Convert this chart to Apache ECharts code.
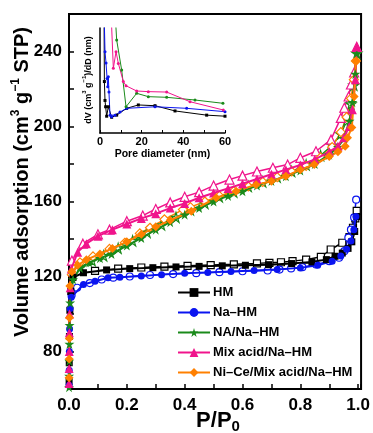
<!DOCTYPE html>
<html>
<head>
<meta charset="utf-8">
<script src="https://cdn.jsdelivr.net/npm/echarts@6/dist/echarts.min.js"></script>
<style>
  html, body { margin: 0; padding: 0; background: #fff; }
  #chart { width: 373px; height: 433px; }
</style>
</head>
<body>
<div id="chart"></div>
<script>
// ---- N2 adsorption–desorption isotherms (P/P0 vs. volume adsorbed, cm3/g STP) ----
const sampleNames = ['HM', 'Na\u2013HM', 'NA/Na\u2013HM', 'Mix acid/Na\u2013HM', 'Ni\u2013Ce/Mix acid/Na\u2013HM'];

// HM
const hmAdsP = [0.0004, 0.0008, 0.0015, 0.003, 0.006, 0.014, 0.05, 0.13, 0.21, 0.29, 0.37, 0.45, 0.53, 0.61, 0.69, 0.77, 0.84, 0.89, 0.92, 0.945, 0.965, 0.978, 0.988, 0.995];
const hmAdsV = [64, 74, 88, 102, 112, 119.5, 122, 123.5, 124.2, 124.7, 125.1, 125.4, 125.7, 126, 126.3, 126.9, 127.8, 129, 130.8, 132.5, 135, 138.5, 144, 152];
const hmDesP = [0.995, 0.99, 0.982, 0.97, 0.945, 0.905, 0.871, 0.82, 0.773, 0.733, 0.693, 0.65, 0.57, 0.49, 0.41, 0.33, 0.25, 0.17, 0.09];
const hmDesV = [155, 151, 146, 141, 138, 134.4, 130.5, 129, 128.2, 127.6, 127.3, 127, 126.5, 126.1, 125.7, 125.3, 124.8, 124.2, 123];

// Na–HM
const naAdsP = [0.0003, 0.0007, 0.0012, 0.002, 0.004, 0.008, 0.05, 0.09, 0.135, 0.176, 0.25, 0.32, 0.4, 0.48, 0.56, 0.64, 0.72, 0.8, 0.86, 0.91, 0.94, 0.96, 0.975, 0.985, 0.992];
const naAdsV = [62, 70, 80, 92, 103, 109, 115.7, 117.5, 119.3, 119.6, 120.3, 121, 121.7, 122.2, 122.7, 123.2, 123.8, 124.6, 126, 128.2, 131, 134.5, 139, 145, 152];
const naDesP = [0.993, 0.986, 0.975, 0.966, 0.952, 0.934, 0.9, 0.854, 0.807, 0.768, 0.728, 0.687, 0.6, 0.52, 0.44, 0.36, 0.28, 0.21, 0.153, 0.113, 0.072, 0.028, 0.009];
const naDesV = [161, 151.5, 145, 140.7, 133.5, 130, 128.2, 126.4, 125, 124.3, 123.7, 123.2, 122.8, 122.3, 121.8, 121.3, 120.8, 120, 119.4, 118.4, 116.5, 114, 110];

// NA/Na–HM
const nahAdsP = [0.0002, 0.0005, 0.0009, 0.0014, 0.002, 0.004, 0.014, 0.038, 0.07, 0.107, 0.147, 0.2, 0.25, 0.3, 0.35, 0.4, 0.45, 0.5, 0.55, 0.6, 0.65, 0.7, 0.75, 0.8, 0.85, 0.9, 0.93, 0.95, 0.97, 0.98, 0.99, 0.995];
const nahAdsV = [61, 67, 75, 84, 94, 106, 118.4, 124.5, 127.5, 129.8, 132, 136.5, 140.5, 145, 149, 153, 156.5, 160, 163, 165.5, 168.5, 171, 173.5, 176.5, 180, 185, 189, 193.5, 203, 213, 228, 239];
const nahDesP = [0.995, 0.985, 0.975, 0.96, 0.94, 0.91, 0.87, 0.82, 0.77, 0.72, 0.67, 0.62, 0.57, 0.52, 0.47, 0.42, 0.37, 0.32, 0.27, 0.22, 0.17, 0.12, 0.08, 0.04];
const nahDesV = [239, 222, 212, 203, 196, 190, 184.5, 179.5, 176, 173, 170.5, 168, 165, 162.5, 159, 155.5, 151.5, 147.5, 143.5, 139, 135, 131, 128.5, 125];

// Mix acid/Na–HM
const mixAdsP = [0.0002, 0.0005, 0.0009, 0.0014, 0.002, 0.004, 0.008, 0.03, 0.06, 0.1, 0.15, 0.2, 0.25, 0.3, 0.35, 0.4, 0.45, 0.5, 0.55, 0.6, 0.65, 0.7, 0.75, 0.8, 0.85, 0.9, 0.93, 0.95, 0.969, 0.98, 0.99, 0.995];
const mixAdsV = [63, 71, 80, 90, 100, 114, 124, 133, 137.5, 141.5, 145, 148, 151, 153.5, 156.5, 159, 162, 164.5, 167, 169.5, 172, 174.5, 177, 179.5, 182.5, 186.5, 189.5, 194, 200, 209, 225, 242.5];
const mixDesP = [0.995, 0.986, 0.975, 0.967, 0.952, 0.94, 0.906, 0.854, 0.8, 0.756, 0.705, 0.65, 0.6, 0.555, 0.5, 0.45, 0.4, 0.35, 0.3, 0.255, 0.2, 0.14, 0.1, 0.048, 0.01];
const mixDesV = [242.5, 228.8, 222.4, 216, 210, 204.6, 193, 186.8, 183.3, 179.7, 178, 176, 173.8, 171.7, 168.5, 165, 162.5, 159.5, 156, 152.5, 149.5, 145, 142.5, 137.5, 128.5];

// Ni–Ce/Mix acid/Na–HM
const nicAdsP = [0.0003, 0.0006, 0.001, 0.0016, 0.003, 0.01, 0.03, 0.06, 0.107, 0.15, 0.2, 0.25, 0.3, 0.35, 0.423, 0.509, 0.578, 0.647, 0.7, 0.75, 0.8, 0.848, 0.9, 0.93, 0.955, 0.963, 0.978, 0.986, 0.992];
const nicAdsV = [66, 76, 87, 98, 115, 122.5, 126, 129, 132, 135, 138.5, 142.5, 146.5, 150, 154.8, 162, 165.5, 169, 170.8, 173.5, 177, 179.7, 184, 186.5, 189.5, 194, 199.5, 216, 235];
const nicDesP = [0.992, 0.985, 0.975, 0.96, 0.94, 0.91, 0.87, 0.82, 0.77, 0.72, 0.67, 0.62, 0.57, 0.52, 0.47, 0.42, 0.394, 0.33, 0.28, 0.245, 0.193, 0.14, 0.083, 0.038, 0.01];
const nicDesV = [235, 225, 215, 205, 197, 189, 183.5, 179, 176, 173, 170.5, 168, 165.5, 163, 160, 157, 155.7, 150.5, 146, 143, 138, 134.7, 130.7, 127.5, 121];

// ---- Inset: pore size distribution, dV/dD (arbitrary units) vs pore diameter (nm) ----
const psdHmD   = [1.9, 2.1, 2.4, 2.7, 3.2, 4.0, 5.6, 8.0, 12.8, 18.4, 26.4, 36, 51.2, 60];
const psdHmV   = [130, 49, 31, 25, 16, 25, 15, 17, 23.5, 26.7, 26, 21, 17, 16];
const psdNaD   = [1.8, 2.4, 2.9, 3.4, 3.7, 4.0, 4.3, 4.8, 5.6, 7.2, 9.6, 12.8, 26.4, 41.6, 60];
const psdNaV   = [130, 77.5, 66.6, 52, 44, 53.6, 39, 17, 15.5, 17, 20, 23.5, 25, 23.5, 20.3];
const psdNahD  = [6.8, 8.0, 10.4, 12.5, 17.6, 23.2, 32, 45.6, 59];
const psdNahV  = [130, 88.6, 60, 25, 37.8, 34.6, 34, 31.4, 28.3];
const psdMixD  = [5.0, 6.4, 7.7, 8.8, 11.2, 12.5, 17.6, 23.2, 32, 43.2, 59.2];
const psdMixV  = [130, 61.6, 77.5, 66.3, 49, 45, 40, 39.4, 39, 29.8, 21.9];

// Tick labels
const xTickLabels = [0.0, 0.2, 0.4, 0.6, 0.8, 1.0];
const yTickLabels = [80, 120, 160, 200, 240];
const insetTickLabels = [0, 20, 40, 60];

const colors = ['#000000', '#0a14f0', '#1a8a1a', '#f0148c', '#ff8000'];
const starPath = 'path://M50,0 L61,35 L98,35 L68,57 L79,91 L50,70 L21,91 L32,57 L2,35 L39,35 Z';
const symbols = ['rect', 'circle', starPath, 'triangle', 'diamond'];
const symbolSizes = [7, 7, 10, 9, 9];

const zip = (a, b) => a.map((v, i) => [v, b[i]]);
const isoData = [
  [zip(hmAdsP, hmAdsV), zip(hmDesP, hmDesV)],
  [zip(naAdsP, naAdsV), zip(naDesP, naDesV)],
  [zip(nahAdsP, nahAdsV), zip(nahDesP, nahDesV)],
  [zip(mixAdsP, mixAdsV), zip(mixDesP, mixDesV)],
  [zip(nicAdsP, nicAdsV), zip(nicDesP, nicDesV)]
];
const psdData = [zip(psdHmD, psdHmV), zip(psdNaD, psdNaV), zip(psdNahD, psdNahV), zip(psdMixD, psdMixV)];

const FONT = 'Arial, "Liberation Sans", sans-serif';

const series = [];
// desorption branches (open symbols) drawn first
isoData.forEach((d, i) => {
  series.push({
    name: sampleNames[i] + ' desorption', type: 'line', xAxisIndex: 0, yAxisIndex: 0,
    data: d[1], symbol: symbols[i], symbolSize: symbolSizes[i], showAllSymbol: true,
    lineStyle: { color: colors[i], width: 1.5 },
    itemStyle: { color: '#ffffff', borderColor: colors[i], borderWidth: 1.2 },
    z: 2, animation: false
  });
});
// adsorption branches (filled symbols)
isoData.forEach((d, i) => {
  series.push({
    name: sampleNames[i], type: 'line', xAxisIndex: 0, yAxisIndex: 0,
    data: d[0], symbol: symbols[i], symbolSize: symbolSizes[i], showAllSymbol: true,
    lineStyle: { color: colors[i], width: 2 },
    itemStyle: { color: colors[i], borderColor: colors[i], borderWidth: 0 },
    z: 3, animation: false
  });
});
// inset curves
psdData.forEach((d, i) => {
  series.push({
    name: 'psd' + i, type: 'line', xAxisIndex: 1, yAxisIndex: 1,
    data: d, symbol: i === 0 ? 'rect' : 'circle', symbolSize: 3, showAllSymbol: true,
    clip: true,
    lineStyle: { color: colors[i], width: 1 },
    itemStyle: { color: colors[i] },
    z: 4, animation: false
  });
});

const chart = echarts.init(document.getElementById('chart'), null, { renderer: 'canvas' });
chart.setOption({
  animation: false,
  backgroundColor: '#ffffff',
  grid: [
    { left: 69, top: 14, width: 293, height: 375, show: true, borderColor: '#000', borderWidth: 2, backgroundColor: 'transparent' },
    { left: 100, top: 28, width: 125, height: 105 }
  ],
  xAxis: [
    {
      type: 'value', gridIndex: 0, min: 0, max: 1.01, interval: 0.1,
      axisLine: { lineStyle: { color: '#000', width: 2 } },
      axisTick: { inside: true, length: 5, lineStyle: { color: '#000', width: 1.5 } },
      splitLine: { show: false },
      axisLabel: {
        color: '#000', fontWeight: 'bold', fontSize: 17, fontFamily: FONT, margin: 8,
        formatter: v => {
          const k = Math.round(v * 10);
          const lab = xTickLabels.find(t => Math.round(t * 10) === k);
          return (lab !== undefined && Math.abs(v * 10 - k) < 1e-6) ? lab.toFixed(1) : '';
        }
      }
    },
    {
      type: 'value', gridIndex: 1, min: 0, max: 60, interval: 10,
      axisLine: { lineStyle: { color: '#000', width: 1.5 } },
      axisTick: { inside: true, length: 3, lineStyle: { color: '#000', width: 1 } },
      splitLine: { show: false },
      axisLabel: {
        color: '#000', fontWeight: 'bold', fontSize: 11, fontFamily: FONT, margin: 3,
        formatter: v => insetTickLabels.includes(Math.round(v)) ? String(Math.round(v)) : ''
      },
      name: 'Pore diameter (nm)', nameLocation: 'middle', nameGap: 16,
      nameTextStyle: { color: '#000', fontWeight: 'bold', fontSize: 10.5, fontFamily: FONT }
    }
  ],
  yAxis: [
    {
      type: 'value', gridIndex: 0, min: 60, max: 260, interval: 20,
      axisLine: { lineStyle: { color: '#000', width: 2 } },
      axisTick: { inside: true, length: 5, lineStyle: { color: '#000', width: 1.5 } },
      splitLine: { show: false },
      axisLabel: {
        color: '#000', fontWeight: 'bold', fontSize: 17, fontFamily: FONT, margin: 7,
        formatter: v => yTickLabels.includes(Math.round(v)) ? String(Math.round(v)) : ''
      }
    },
    {
      type: 'value', gridIndex: 1, min: 0, max: 100,
      axisLine: { show: true, lineStyle: { color: '#000', width: 1.5 } },
      axisTick: { show: false },
      axisLabel: { show: false },
      splitLine: { show: false }
    }
  ],
  legend: {
    data: sampleNames,
    orient: 'vertical', left: 172, top: 281,
    itemWidth: 32, itemHeight: 11, itemGap: 7,
    textStyle: { color: '#000', fontWeight: 'bold', fontSize: 13, fontFamily: FONT, padding: [0, 0, 0, -2] }
  },
  graphic: [
    {
      type: 'text', x: 21, y: 182, rotation: Math.PI / 2,
      style: {
        text: '{n|Volume adsorption (cm}{s|3}{n| g}{s|\u22121}{n| STP)}',
        align: 'center', verticalAlign: 'middle',
        rich: {
          n: { fontSize: 20, fontWeight: 'bold', fontFamily: FONT, fill: '#000', lineHeight: 23, verticalAlign: 'bottom' },
          s: { fontSize: 12, fontWeight: 'bold', fontFamily: FONT, fill: '#000', lineHeight: 23, verticalAlign: 'top' }
        }
      }
    },
    {
      type: 'text', x: 218, y: 421,
      style: {
        text: '{n|P/P}{s|0}',
        align: 'center', verticalAlign: 'middle',
        rich: {
          n: { fontSize: 22, fontWeight: 'bold', fontFamily: FONT, fill: '#000', lineHeight: 26, verticalAlign: 'middle' },
          s: { fontSize: 15, fontWeight: 'bold', fontFamily: FONT, fill: '#000', lineHeight: 26, verticalAlign: 'bottom' }
        }
      }
    },
    {
      type: 'text', x: 87, y: 80, rotation: Math.PI / 2,
      style: {
        text: '{n|dV (cm}{s|3}{n| g}{s|\u22121}{n|)/dD (nm)}',
        align: 'center', verticalAlign: 'middle',
        rich: {
          n: { fontSize: 9, fontWeight: 'bold', fontFamily: FONT, fill: '#000', lineHeight: 12, verticalAlign: 'bottom' },
          s: { fontSize: 6, fontWeight: 'bold', fontFamily: FONT, fill: '#000', lineHeight: 12, verticalAlign: 'top' }
        }
      }
    }
  ],
  series: series
});
</script>
</body>
</html>
